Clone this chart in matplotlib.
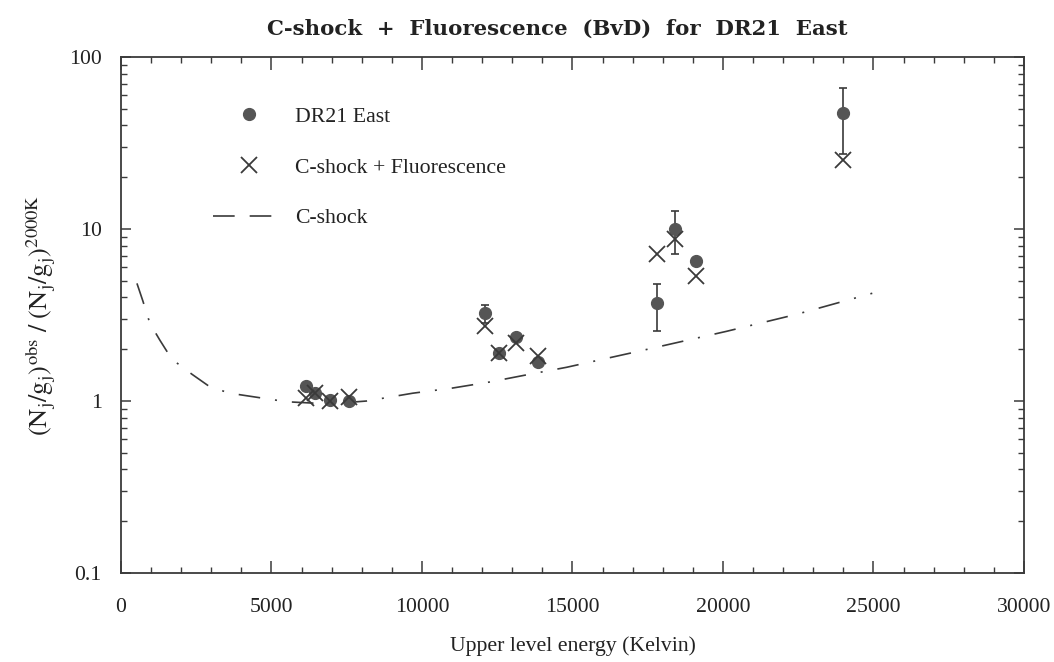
import matplotlib
matplotlib.use("Agg")
import matplotlib.pyplot as plt
from matplotlib.lines import Line2D
from matplotlib.ticker import LogLocator, FixedLocator, NullFormatter, FuncFormatter

# Observed DR21 East column-density ratios (upper level energy in K)
energy = [6150, 6440, 6940, 7570, 12080, 12550, 13110, 13840, 17820, 18420, 19120, 24000]
ratio_obs = [1.22, 1.11, 1.01, 1.00, 3.24, 1.90, 2.35, 1.68, 3.70, 9.95, 6.48, 47.4]
err_low = [0, 0, 0, 0, 0.40, 0, 0, 0, 1.15, 2.75, 0, 20.0]
err_high = [0, 0, 0, 0, 0.40, 0, 0, 0, 1.07, 2.85, 0, 19.0]

# C-shock + fluorescence model at the same levels
ratio_model = [1.04, 1.12, 1.00, 1.06, 2.74, 1.90, 2.17, 1.82, 7.12, 8.70, 5.30, 25.3]

# Pure C-shock curve
cshock_energy = [530, 730, 960, 1290, 1690, 2360, 2950, 3620, 4850, 5510, 6500,
                 7500, 8160, 9690, 11020, 12250, 13570, 14800, 17220, 20110,
                 22440, 24960]
cshock_ratio = [4.83, 3.80, 2.83, 2.26, 1.75, 1.43, 1.21, 1.11, 1.03, 0.99, 0.97,
                0.98, 1.00, 1.11, 1.19, 1.29, 1.43, 1.57, 1.95, 2.54,
                3.19, 4.23]

plt.rcParams['font.family'] = ['Liberation Serif', 'DejaVu Serif']
plt.rcParams['mathtext.fontset'] = 'stix'

fig = plt.figure(figsize=(10.54, 6.62), dpi=100)
ax = fig.add_axes([0.1148, 0.1344, 0.8567, 0.7795])

ink = '#3a3a3a'
dot_col = '#555555'
txt = '#222222'
fs = 15.7

ax.plot(cshock_energy, cshock_ratio, color=ink, lw=1.2,
        dashes=(13, 9, 1.2, 9))

ax.errorbar(energy, ratio_obs, yerr=[err_low, err_high], fmt='o',
            color=dot_col, ms=8.5, ecolor=ink, elinewidth=1.2,
            capsize=3, capthick=1.2, zorder=3)
ax.plot(energy, ratio_model, 'x', color=ink, ms=11, mew=1.3, zorder=4)

ax.set_yscale('log')
ax.set_xlim(0, 30000)
ax.set_ylim(0.1, 100)

ax.xaxis.set_major_locator(FixedLocator([0, 5000, 10000, 15000, 20000, 25000, 30000]))
ax.xaxis.set_minor_locator(FixedLocator([v for v in range(0, 30001, 1000) if v % 5000]))
ax.yaxis.set_major_locator(LogLocator(base=10))
ax.yaxis.set_minor_locator(LogLocator(base=10, subs=range(2, 10)))
ax.yaxis.set_minor_formatter(NullFormatter())
ax.yaxis.set_major_formatter(FuncFormatter(lambda v, p: f'{v:g}'))

ax.tick_params(which='both', direction='in', top=True, right=True,
               colors=ink, labelcolor=txt, labelsize=fs)
ax.tick_params(axis='x', which='major', length=9, width=1.1, pad=18)
ax.tick_params(axis='x', which='minor', length=4, width=1.0)
ax.tick_params(axis='y', which='major', length=7, width=1.1, pad=14)
ax.tick_params(axis='y', which='minor', length=4, width=1.0)
for s in ax.spines.values():
    s.set_color(ink)
    s.set_linewidth(1.3)

ax.set_xlabel('Upper level energy (Kelvin)', fontsize=fs, color=txt, labelpad=14)
ax.set_ylabel(r'$(\mathrm{N_j/g_j})^{\mathrm{obs}}\ /\ (\mathrm{N_j/g_j})^{\mathrm{2000K}}$',
              fontsize=19, color=txt, labelpad=8)
ax.set_title('C-shock  +  Fluorescence  (BvD)  for  DR21  East', fontsize=15.3,
             fontweight='bold', color=txt, pad=16, x=0.483,
             family=['DejaVu Serif'])

handles = [
    Line2D([], [], ls='none', marker='o', color=dot_col, ms=8.5),
    Line2D([], [], ls='none', marker='x', color=ink, ms=11, mew=1.3),
    Line2D([], [], color=ink, lw=1.2, dashes=(13, 9)),
]
labels = ['DR21 East', 'C-shock + Fluorescence', 'C-shock']
ax.legend(handles, labels, loc='upper left', bbox_to_anchor=(0.08, 0.942),
          frameon=False, fontsize=fs, handlelength=3.3, handletextpad=0.45,
          labelspacing=1.4, labelcolor=txt)

fig.savefig('out.png', dpi=100)
